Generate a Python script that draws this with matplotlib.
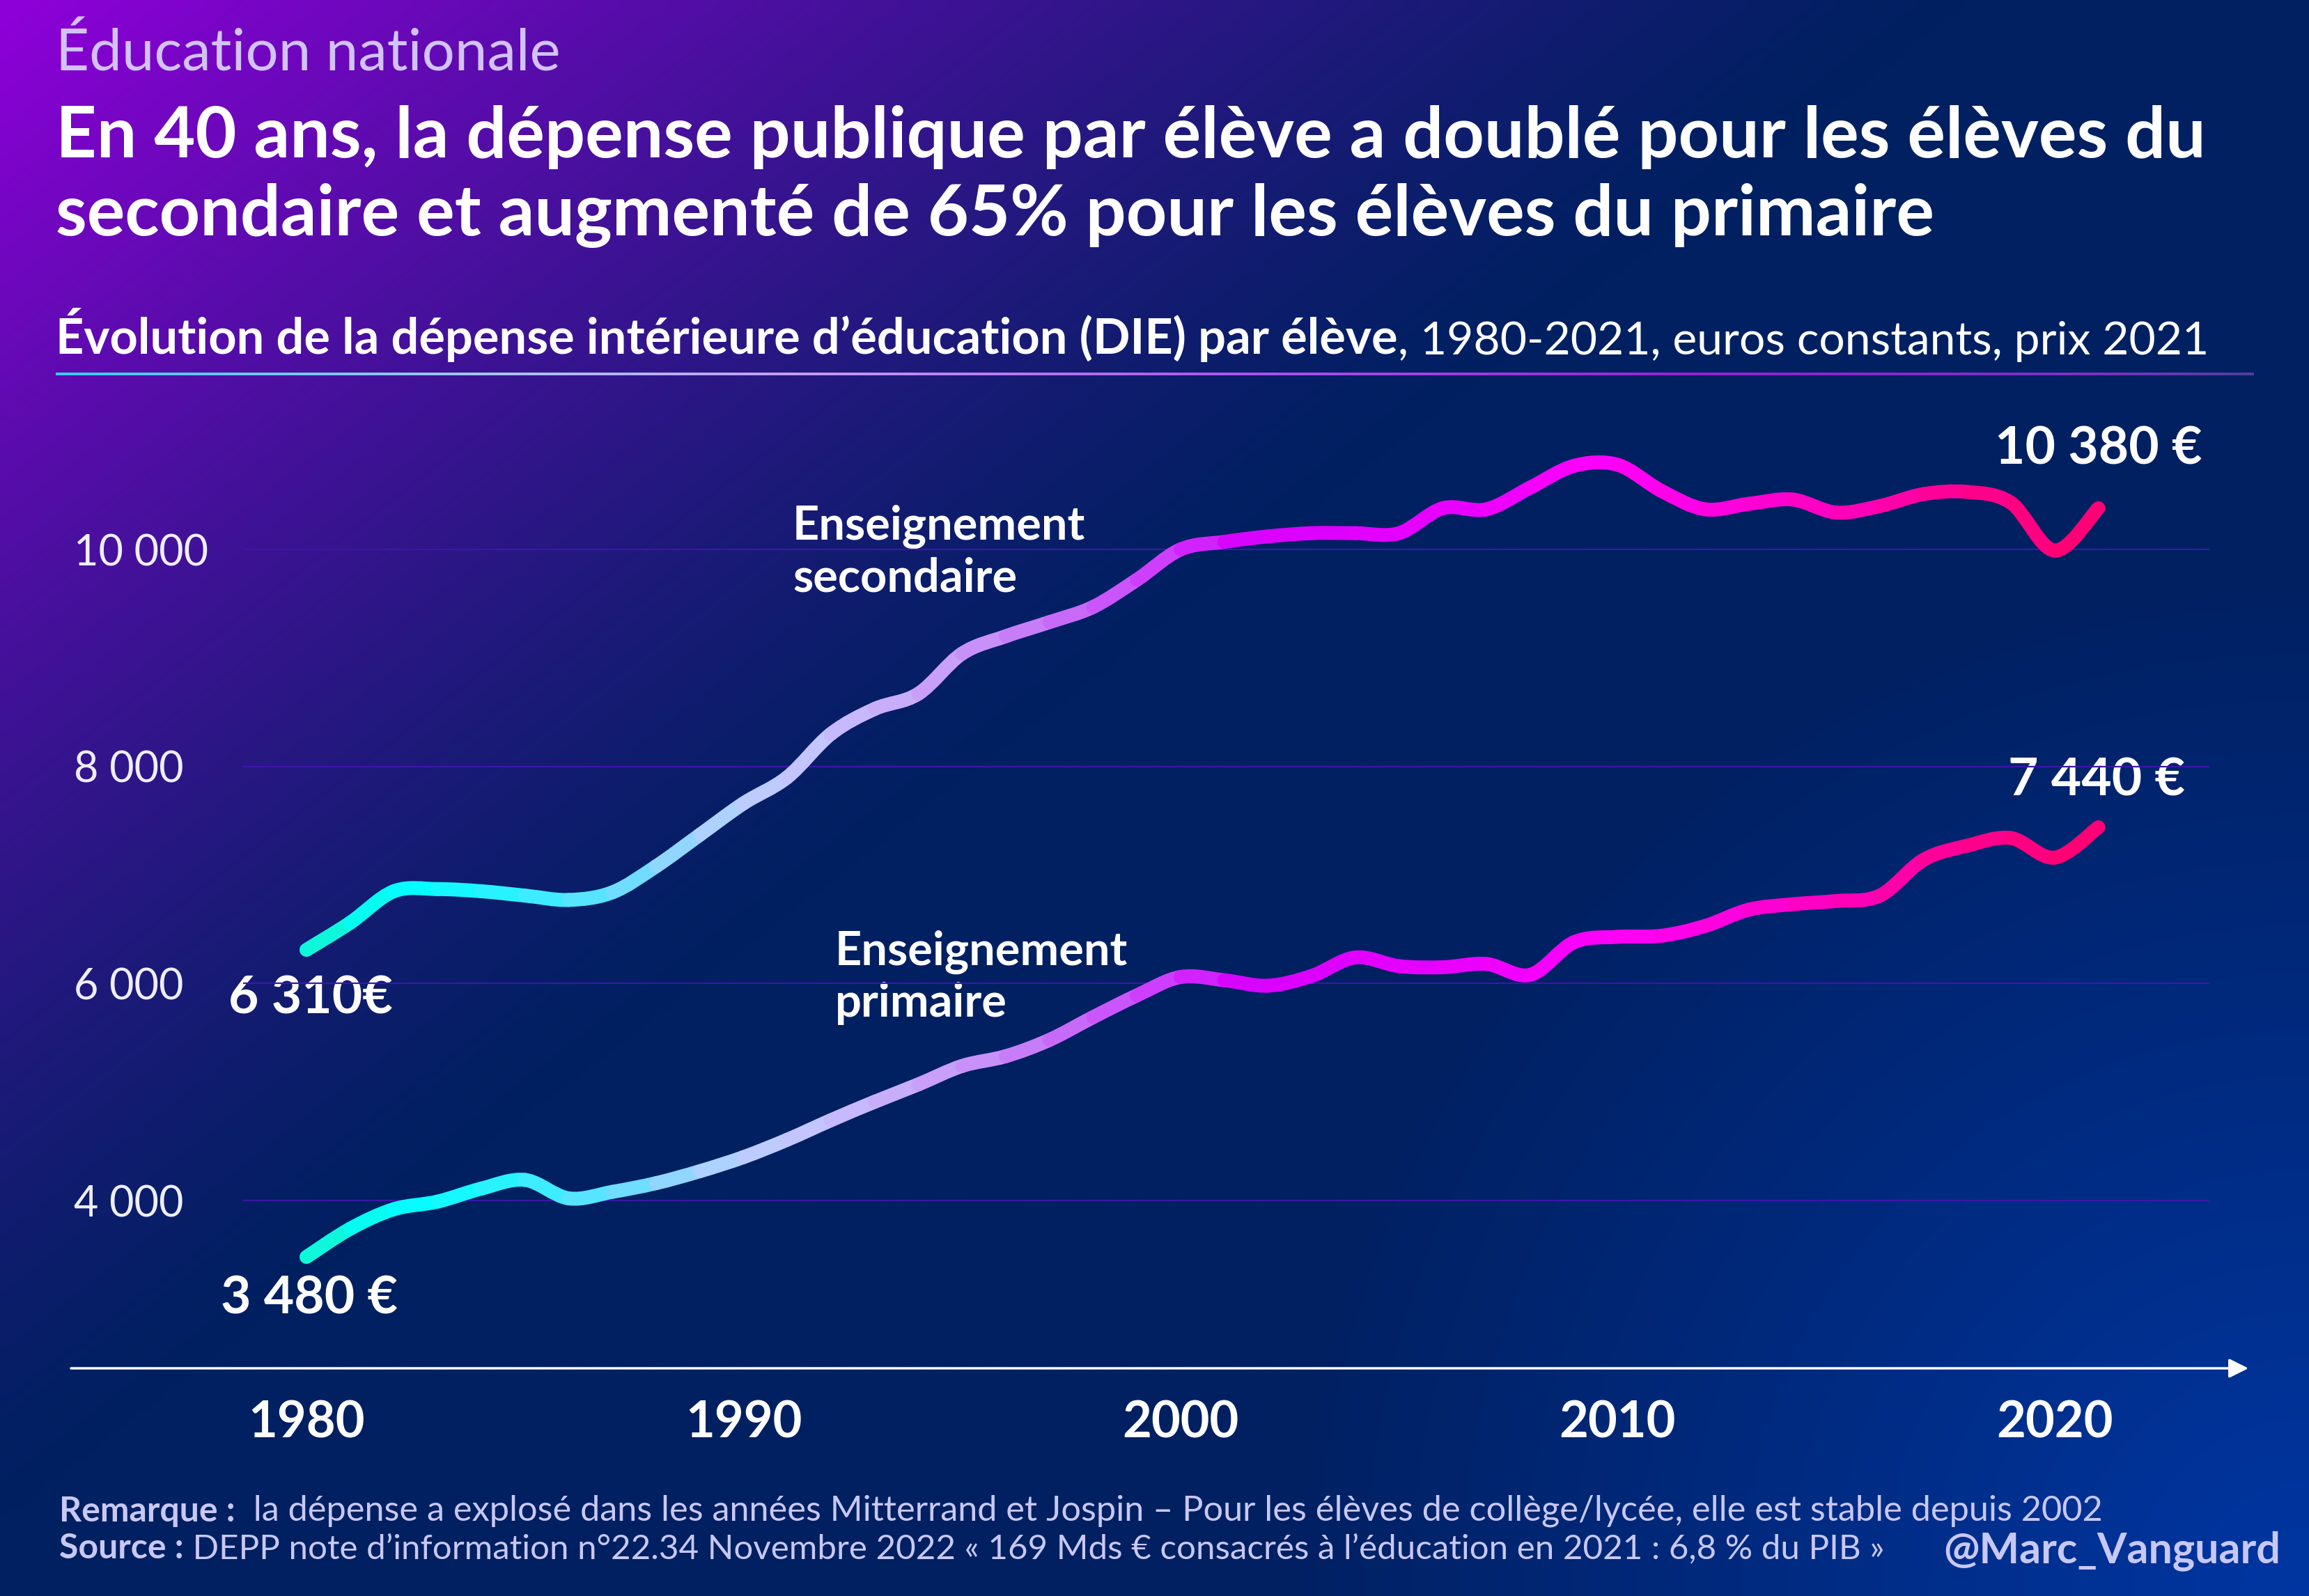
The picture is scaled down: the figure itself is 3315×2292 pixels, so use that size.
import numpy as np
import matplotlib
matplotlib.use('Agg')
import matplotlib.pyplot as plt
from matplotlib.collections import LineCollection, PatchCollection
from matplotlib.colors import LinearSegmentedColormap, to_rgb
from matplotlib.patches import PathPatch
from matplotlib.path import Path

# donnees (euros constants 2021)
years = list(range(1980, 2022))
secondaire = [6310, 6560, 6850, 6870, 6850, 6810, 6770, 6840, 7080, 7370,
              7660, 7900, 8300, 8530, 8670, 9040, 9200, 9330, 9470, 9720,
              10000, 10070, 10120, 10150, 10150, 10150, 10380, 10370, 10570, 10770,
              10780, 10540, 10370, 10420, 10460, 10340, 10400, 10510, 10530, 10430,
              9990, 10380]
primaire = [3480, 3740, 3920, 3990, 4110, 4190, 4020, 4080, 4160, 4270,
            4400, 4560, 4740, 4910, 5070, 5240, 5330, 5480, 5690, 5890,
            6060, 6030, 5980, 6070, 6240, 6160, 6150, 6180, 6080, 6380,
            6430, 6440, 6530, 6680, 6730, 6760, 6810, 7140, 7270, 7340,
            7160, 7440]
ytick_vals = [4000, 6000, 8000, 10000]
ytick_labels = ['4 000', '6 000', '8 000', '10 000']
xtick_vals = [1980, 1990, 2000, 2010, 2020]

W, H = 3316, 2292
plt.rcParams['font.family'] = ['Lato', 'DejaVu Sans']
fig = plt.figure(figsize=(W / 100, H / 100), dpi=100)

# fond degrade
bg = fig.add_axes([0, 0, 1, 1])
gx = np.linspace(0, 1, 332)[None, :]
gy = np.linspace(0, 1, 230)[:, None]
navy = np.array(to_rgb('#002061'))
purple = np.array(to_rgb('#9000da'))
blue = np.array(to_rgb('#0036a2'))
t = np.clip(gx / 0.85 + gy / 0.95, 0, 1)
w = (1 - t) ** 1.3
img = navy + w[..., None] * (purple - navy)
r = np.sqrt(((1 - gx) / 0.45) ** 2 + ((1 - gy) / 0.65) ** 2)
wb = np.clip(1 - r, 0, 1)
img = img + wb[..., None] * (blue - navy)
bg.imshow(np.clip(img, 0, 1), extent=(0, W, H, 0), aspect='auto', interpolation='bilinear', zorder=0)
bg.set_xlim(0, W)
bg.set_ylim(H, 0)
bg.axis('off')

# titres
bg.text(80, 102, 'Éducation nationale', fontsize=60, color='#d2c2f8', va='baseline')
bg.text(80, 226, 'En 40 ans, la dépense publique par élève a doublé pour les élèves du',
        fontsize=73.5, fontweight='bold', color='white', va='baseline')
bg.text(80, 338, 'secondaire et augmenté de 65% pour les élèves du primaire',
        fontsize=73.5, fontweight='bold', color='white', va='baseline')
st = bg.text(80, 508, 'Évolution de la dépense intérieure d\u2019éducation (DIE) par élève',
             fontsize=50.7, fontweight='bold', color='white', va='baseline')
bg.annotate(', 1980-2021, euros constants, prix 2021', xy=(1, 0), xycoords=st,
            fontsize=47.5, color='white', va='bottom', ha='left')

# trait sous le sous-titre
ux = np.linspace(80, 3236, 300)
ucmap = LinearSegmentedColormap.from_list('u', [(0, '#38d0f0'), (0.2, '#a8c8f8'), (0.33, '#c8a0f8'),
                                                (0.55, '#b050f0'), (0.75, '#9a20d8'), (0.93, '#8030c8'),
                                                (1, '#5040a0')])
useg = np.stack([np.column_stack([ux[:-1], np.full(299, 537)]), np.column_stack([ux[1:], np.full(299, 537)])], axis=1)
bg.add_collection(LineCollection(useg, colors=ucmap(np.linspace(0, 1, 299)), linewidths=2.8, capstyle='butt'))

# axe des abscisses (fleche)
bg.annotate('', xy=(3228, 1965), xytext=(102, 1965),
            arrowprops=dict(arrowstyle='-|>', color='white', lw=2.5, mutation_scale=42, shrinkA=0, shrinkB=0))

# zone de donnees
ax = fig.add_axes([349 / W, 1 - 1965 / H, (3172 - 349) / W, (1965 - 600) / H])
ax.patch.set_alpha(0)
ax.set_xlim(1978.55, 2023.54)
ax.set_ylim(2454, 11213)
for s in ax.spines.values():
    s.set_visible(False)
ax.set_yticks(ytick_vals)
ax.set_yticklabels(ytick_labels, fontsize=44, color='#eeeeff')
for lbl in ax.get_yticklabels():
    lbl.set_horizontalalignment('left')
ax.tick_params(axis='y', length=0, pad=175)
ax.set_xticks(xtick_vals)
ax.set_xticklabels([str(v) for v in xtick_vals], fontsize=52, fontweight='bold', color='white')
ax.tick_params(axis='x', length=0, pad=33)
ax.grid(axis='y', color='#3c16a8', lw=1.6)
ax.set_axisbelow(True)

cmap = LinearSegmentedColormap.from_list('g', [
    (0.00, '#14f5d0'), (0.05, '#00ffff'), (0.12, '#30f0ff'), (0.18, '#70dcff'),
    (0.24, '#b8d0ff'), (0.29, '#c8c0ff'), (0.34, '#c8a8fa'), (0.39, '#c888f8'),
    (0.44, '#c860f8'), (0.49, '#d030ff'), (0.53, '#d800ff'), (0.64, '#e800ff'),
    (0.73, '#ff00f8'), (0.81, '#ff00d8'), (0.88, '#ff00b0'), (0.93, '#ff0090'),
    (1.00, '#ff0070')])


def grad_line(vals):
    # courbe lissee (segments de Bezier entre les points annuels), couleur par segment
    p = np.column_stack([years, vals]).astype(float)
    n = len(p)
    patches = []
    for i in range(n - 1):
        p0 = p[max(i - 1, 0)]
        p3 = p[min(i + 2, n - 1)]
        c1 = p[i] + (p[i + 1] - p0) / 6
        c2 = p[i + 1] - (p3 - p[i]) / 6
        path = Path([p[i], c1, c2, p[i + 1]], [Path.MOVETO, Path.CURVE4, Path.CURVE4, Path.CURVE4])
        patches.append(PathPatch(path))
    mids = (np.array(years[:-1]) + 0.5 - years[0]) / (years[-1] - years[0])
    pc = PatchCollection(patches, facecolors='none', edgecolors=cmap(mids), linewidths=14.4,
                         capstyle='round', joinstyle='round', zorder=3)
    ax.add_collection(pc)


grad_line(secondaire)
grad_line(primaire)

# etiquettes
lab = dict(fontsize=48, fontweight='bold', color='white', linespacing=1.22, va='center', ha='left')
bg.text(1138, 793, 'Enseignement\nsecondaire', **lab)
bg.text(1199, 1404, 'Enseignement\nprimaire', **lab)
val = dict(fontsize=54, fontweight='bold', color='white', va='center')
bg.text(328, 1434, '6 310€', ha='left', **val)
bg.text(317, 1865, '3 480 €', ha='left', **val)
bg.text(3162, 645, '10 380 €', ha='right', **val)
bg.text(3137, 1121, '7 440 €', ha='right', **val)

# pied de page
foot = dict(fontsize=36, color='#c8c8f5', va='baseline')
r1 = bg.text(85, 2185, 'Remarque :', fontweight='bold', **foot)
bg.annotate('  la dépense a explosé dans les années Mitterrand et Jospin \u2013 Pour les élèves de collège/lycée, elle est stable depuis 2002',
            xy=(1, 0), xycoords=r1, fontsize=36.4, color='#c8c8f5', va='bottom', ha='left')
r2 = bg.text(85, 2238, 'Source :', fontweight='bold', **foot)
bg.annotate(' DEPP note d\u2019information n°22.34 Novembre 2022 « 169 Mds € consacrés à l\u2019éducation en 2021 : 6,8 % du PIB »',
            xy=(1, 0), xycoords=r2, fontsize=35.5, color='#c8c8f5', va='bottom', ha='left')
bg.text(3274, 2227, '@Marc_Vanguard', fontsize=44, fontweight='bold', color='#c8c8f5', ha='right', va='center')

fig.savefig('out.png', dpi=100)
